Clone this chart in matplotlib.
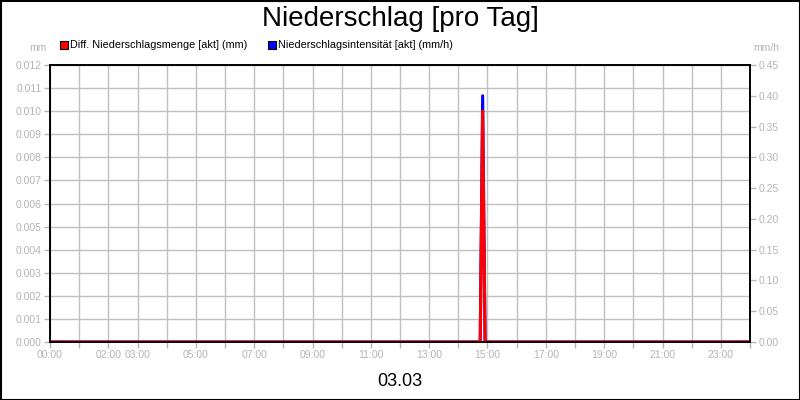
import matplotlib.pyplot as plt
from matplotlib.patches import Rectangle
import numpy as np

plt.rcParams['font.family'] = ['Liberation Sans', 'DejaVu Sans']

# Messwerte (Stunden des Tages, 5-Minuten-Werte um die Spitze)
zeit_h = [0.0, 14 + 45/60, 14 + 50/60, 14 + 55/60, 24.0]
menge_mm = [0.0, 0.0, 0.010, 0.0, 0.0]
intens_mmh = [0.0, 0.0, 0.40, 0.0, 0.0]

xlabel_hours = [0, 2, 3, 5, 7, 9, 11, 13, 15, 17, 19, 21, 23]
title = 'Niederschlag [pro Tag]'
datum = '03.03'
name_menge = 'Diff. Niederschlagsmenge [akt] (mm)'
name_intens = 'Niederschlagsintensität [akt] (mm/h)'

grau = '#b4b4b4'

fig = plt.figure(figsize=(8, 4), dpi=100)
ax = fig.add_axes([50/800, 58/400, 700/800, 277/400])
ax2 = ax.twinx()

ax.set_xlim(0, 24)
ax.set_ylim(0, 0.012)
ax2.set_ylim(0, 0.45)

hours = np.arange(0, 25)
ax.set_xticks(hours)
ax.set_xticklabels(['%02d:00' % h if h in xlabel_hours else '' for h in hours])
ax.set_yticks(np.arange(0, 0.0121, 0.001))
ax.set_yticklabels(['%.3f' % v for v in np.arange(0, 0.0121, 0.001)])
ax2.set_yticks(np.arange(0, 0.451, 0.05))
ax2.set_yticklabels(['%.2f' % v for v in np.arange(0, 0.451, 0.05)])

ax.grid(True, color='#c0c0c0', lw=1)
ax.set_axisbelow(True)
for a in (ax, ax2):
    a.tick_params(colors=grau, labelsize=7.5, length=4, width=1, pad=2)
    for s in a.spines.values():
        s.set_color('black')
        s.set_linewidth(1.2)
        s.set_zorder(5)

ax2.plot(zeit_h, intens_mmh, color='#0000ff', lw=2.2, zorder=2)
ax2.plot(zeit_h, [v / 0.012 * 0.45 for v in menge_mm], color='#ff0000', lw=2.2, zorder=3)

fig.text(0.5, 381/400, title, ha='center', va='center', fontsize=20)
fig.text(0.5, 19/400, datum, ha='center', va='center', fontsize=13)
fig.text(47/800, 352/400, 'mm', ha='right', va='center', fontsize=7.5, color=grau)
fig.text(753/800, 352/400, 'mm/h', ha='left', va='center', fontsize=7.5, color=grau)

# Legende
for x0, col, txt in [(60, '#ff0000', name_menge), (268, '#0000ff', name_intens)]:
    fig.patches.append(Rectangle((x0/800, 351/400), 8/800, 8/400, transform=fig.transFigure,
                                 facecolor=col, edgecolor='black', lw=0.8))
    fig.text((x0 + 10)/800, 355/400, txt, ha='left', va='center', fontsize=7.8)

fig.patches.append(Rectangle((0.5/800, 0.5/400), 799/800, 399/400, transform=fig.transFigure,
                             fill=False, edgecolor='black', lw=1.5))

fig.savefig('out.png', dpi=100)
